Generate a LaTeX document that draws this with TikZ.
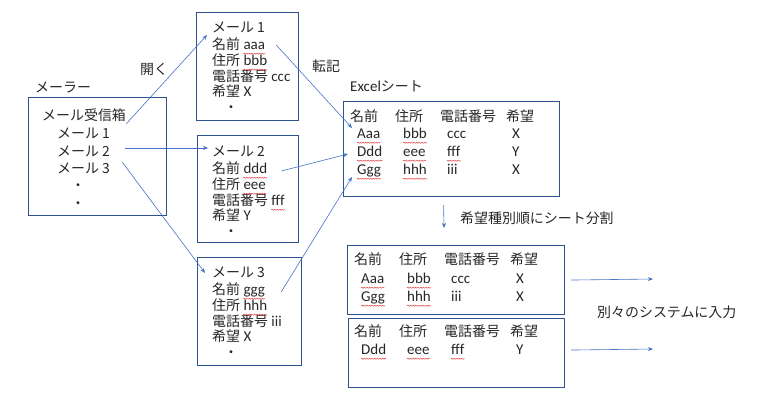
\documentclass[tikz,border=0pt]{standalone}
\usepackage{fontspec}
\setmainfont{Carlito}
\newfontfamily\jp[Scale=0.93]{Noto Sans CJK JP}
\usetikzlibrary{arrows.meta}
\usetikzlibrary{calc}
\usetikzlibrary{positioning}
\usetikzlibrary{decorations.pathmorphing}

\definecolor{borde}{HTML}{2F528F}
\definecolor{flecha}{HTML}{4472C4}
\definecolor{texto}{HTML}{262626}
\definecolor{onda}{HTML}{E04040}

\newcommand\jt[1]{{\jp #1}}

\tikzset{
  caja/.style={draw=borde, line width=1.1pt, anchor=north west, inner sep=0pt},
  txt/.style={anchor=west, inner sep=0pt, text=texto, text height=11pt, text depth=2pt,
    font=\fontsize{15}{17}\selectfont},
  flec/.style={-{Stealth[length=5pt,width=4pt]}, flecha, line width=0.6pt},
  ondas/.style={onda, line width=0.45pt, decorate,
    decoration={snake, segment length=2.6pt, amplitude=0.6pt}},
}

\begin{document}
\begin{tikzpicture}[x=1pt, y=-1pt]
    \useasboundingbox (0,0) rectangle (768,415);

    % Mailer
    \node[txt] (mlr) at (35,88) {\jt{メーラー}};
    \node[caja, minimum width=138pt, minimum height=118pt] (buzon) at (28,97) {};
    \node[txt] (buz0) at (42,116) {\jt{メール受信箱}};
    \foreach \i/\y in {1/134, 2/152, 3/169}
        \node[txt] (buz\i) at (57,\y) {\jt{メール \i}};
    \node[txt, anchor=center] (bp1) at (78,186) {\jt{・}};
    \node[txt, anchor=center] (bp2) at (78,204) {\jt{・}};

    % Mails
    \node[caja, minimum width=102pt, minimum height=108pt] (mail1) at (196,12) {};
    \node[caja, minimum width=101pt, minimum height=107pt] (mail2) at (197,135) {};
    \node[caja, minimum width=104pt, minimum height=108pt] (mail3) at (197,257) {};
    \foreach \i/\y/\a/\b/\c/\d in {1/28/aaa/bbb/ccc/X, 2/152/ddd/eee/fff/Y, 3/273/ggg/hhh/iii/X}{
        \node[txt] (t\i) at (212,\y) {\jt{メール \i}};
        \node[txt] (n\i) at (212,\y+17) {\jt{名前}};
        \node[txt] (d\i) at (212,\y+33) {\jt{住所}};
        \node[txt] (p\i) at (212,\y+49) {\jt{電話番号}};
        \node[txt] (k\i) at (212,\y+64) {\jt{希望}};
        \node[txt, right=3pt of n\i] (n\i-v) {\a};
        \node[txt, right=3pt of d\i] (d\i-v) {\b};
        \node[txt, right=3pt of p\i] (p\i-v) {\c};
        \node[txt, right=3pt of k\i] (k\i-v) {\d};
        \node[txt, anchor=center] (mp\i) at (231,\y+80) {\jt{・}};
    }

    % Excel y hojas
    \node[txt] (exl) at (350,87) {Excel\jt{シート}};
    \node[caja, minimum width=216pt, minimum height=95pt] (hoja) at (343,101) {};
    \node[caja, minimum width=217pt, minimum height=69pt] (hojaA) at (347,245) {};
    \node[caja, minimum width=216pt, minimum height=69pt] (hojaB) at (348,318) {};
    \foreach \h/\hx/\hy in {x/350/117, a/354/260, b/354/332}
        \foreach \col/\dx [count=\k] in {名前/0, 住所/45, 電話番号/90, 希望/156}
            \node[txt] (c\h\k) at (\hx+\dx,\hy) {\jt{\col}};
    \foreach \y/\rx/\a/\b/\c/\d [count=\k] in {134/357/Aaa/bbb/ccc/X, 152/357/Ddd/eee/fff/Y,
                                              170/357/Ggg/hhh/iii/X, 279/361/Aaa/bbb/ccc/X,
                                              297/361/Ggg/hhh/iii/X, 350/361/Ddd/eee/fff/Y}{
        \node[txt] (f\k) at (\rx,\y) {\a};
        \node[txt] (f\k-b) at (\rx+46,\y) {\b};
        \node[txt] (f\k-c) at (\rx+90,\y) {\c};
        \node[txt] (f\k-d) at (\rx+155,\y) {\d};
    }

    % Subrayado rojo
    \foreach \n in {n1-v, d1-v, n2-v, d2-v, p2-v, n3-v, d3-v,
                    f1, f1-b, f2, f2-b, f2-c, f3, f3-b, f4, f4-b, f5, f5-b, f6, f6-b, f6-c}
        \draw[ondas] ([yshift=-2pt]\n.south west) -- ([yshift=-2pt]\n.south east);

    % Abrir
    \node[txt] (abrir) at (140,70) {\jt{開く}};
    \draw[flec] ([yshift=-8pt]buz0.east) -- ([xshift=-5pt,yshift=-7pt]t1.west);
    \draw[flec] ([xshift=15pt,yshift=4pt]buz2.east) -- ([xshift=-4pt,yshift=4pt]t2.west);
    \draw[flec] ([xshift=12pt,yshift=7pt]buz3.east) -- ([xshift=-7pt]t3.west);

    % Transcribir
    \node[txt] (tenki) at (312,67) {\jt{転記}};
    \draw[flec] ([xshift=11pt]n1-v.east) -- ([xshift=-5pt,yshift=6pt]f1.west);
    \draw[flec] ([xshift=14pt,yshift=-2pt]n2-v.east) -- ([xshift=-9pt,yshift=-2pt]f2.west);
    \draw[flec] ([xshift=16pt,yshift=-2pt]n3-v.east) -- ([xshift=-5pt,yshift=-7pt]f3.west);

    % Dividir
    \draw[flec] ([xshift=-8pt,yshift=-8pt]hoja.south) -- ([xshift=-12pt,yshift=17pt]hojaA.north);
    \node[txt] (divi) at (460,219) {\jt{希望種別順にシート分割}};

    % Salidas
    \coordinate (salA) at (653,279);
    \coordinate (salB) at (653,349);
    \draw[flec] ([xshift=6pt]hojaA.east) -- (salA);
    \draw[flec] ([xshift=6pt,yshift=3pt]hojaB.east) -- (salB);
    \node[txt] (sist) at (597,313) {\jt{別々のシステムに入力}};

\end{tikzpicture}
\end{document}
